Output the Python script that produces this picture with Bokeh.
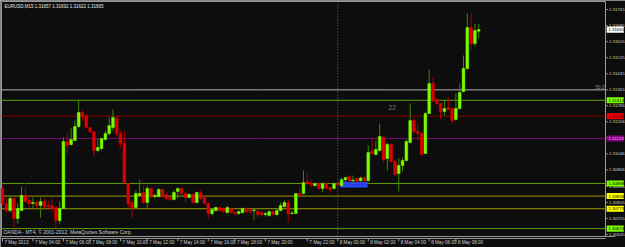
from bokeh.plotting import figure
from bokeh.models import Range1d, ColumnDataSource
from bokeh.embed import file_html
from bokeh.resources import INLINE
from bokeh.core.properties import value

# ---------------- data ----------------
symbol = "EURUSD,M15"
ohlc_last = [1.31657, 1.31692, 1.31622, 1.31665]

opens = [1.30874, 1.30799, 1.30764, 1.30824, 1.30724, 1.30764, 1.30839, 1.30814, 1.30799, 1.30804,
         1.30789, 1.30809, 1.30789, 1.30789, 1.30779, 1.30714, 1.30774, 1.31108, 1.31093, 1.31113,
         1.31182, 1.31252, 1.31237, 1.31177, 1.31157, 1.31063, 1.31073, 1.31118, 1.31148, 1.31177,
         1.31222, 1.31148, 1.31098, 1.30898, 1.30804, 1.30779, 1.30839, 1.30854, 1.30804, 1.30874,
         1.30834, 1.30834, 1.30869, 1.30844, 1.30829, 1.30819, 1.30859, 1.30874, 1.30849, 1.30829,
         1.30844, 1.30804, 1.30854, 1.30829, 1.30799, 1.30749, 1.30764, 1.30779, 1.30774, 1.30754,
         1.30774, 1.30754, 1.30749, 1.30754, 1.30774, 1.30764, 1.30764, 1.30759, 1.30754, 1.30744,
         1.30739, 1.30759, 1.30744, 1.30764, 1.30784, 1.30804, 1.30749, 1.30749, 1.30849, 1.30849,
         1.30908, 1.30901, 1.30888, 1.30898, 1.30874, 1.30898, 1.30879, 1.30874, 1.30898, 1.30888,
         1.30918, 1.30933, 1.30913, 1.30923, 1.30913, 1.30928, 1.30913, 1.31058, 1.31043, 1.31063,
         1.31128, 1.31023, 1.31093, 1.31008, 1.30948, 1.30988, 1.31013, 1.31103, 1.31212, 1.31157,
         1.31148, 1.31048, 1.31247, 1.31397, 1.31317, 1.31297, 1.31257, 1.31277, 1.31272, 1.31217,
         1.31272, 1.31357, 1.31471, 1.31675, 1.31596, 1.31657]

highs = [1.30883, 1.30829, 1.30839, 1.30834, 1.30799, 1.30883, 1.30879, 1.30839, 1.30829, 1.30814,
         1.30829, 1.30824, 1.30814, 1.30824, 1.30784, 1.30809, 1.31128, 1.31148, 1.31177, 1.31212,
         1.31312, 1.31262, 1.31237, 1.31177, 1.31162, 1.31123, 1.31123, 1.31162, 1.31227, 1.31267,
         1.31232, 1.31162, 1.31162, 1.30903, 1.30814, 1.30864, 1.30918, 1.30888, 1.30888, 1.30879,
         1.30849, 1.30874, 1.30874, 1.30849, 1.30834, 1.30864, 1.30879, 1.30879, 1.30854, 1.30849,
         1.30849, 1.30859, 1.30864, 1.30839, 1.30804, 1.30774, 1.30784, 1.30784, 1.30779, 1.30789,
         1.30779, 1.30764, 1.30764, 1.30779, 1.30779, 1.30774, 1.30774, 1.30769, 1.30759, 1.30759,
         1.30764, 1.30764, 1.30774, 1.30804, 1.30814, 1.30814, 1.30764, 1.30849, 1.30879, 1.30963,
         1.30948, 1.30918, 1.30903, 1.30903, 1.30903, 1.30903, 1.30883, 1.30903, 1.30908, 1.30928,
         1.30928, 1.30943, 1.30938, 1.30928, 1.30933, 1.30933, 1.31088, 1.31123, 1.31113, 1.31197,
         1.31138, 1.31103, 1.31098, 1.31018, 1.31023, 1.31028, 1.31118, 1.31297, 1.31227, 1.31197,
         1.31148, 1.31257, 1.31466, 1.31426, 1.31322, 1.31297, 1.31312, 1.31327, 1.31277, 1.31347,
         1.31397, 1.31536, 1.31745, 1.31745, 1.31695, 1.31692]

lows = [1.30789, 1.30754, 1.30754, 1.30679, 1.30699, 1.30764, 1.30804, 1.30779, 1.30774, 1.30774,
        1.30729, 1.30774, 1.30774, 1.30754, 1.30679, 1.30699, 1.30774, 1.31048, 1.31088, 1.31113,
        1.31177, 1.31212, 1.31172, 1.31152, 1.31033, 1.31053, 1.31063, 1.31113, 1.31138, 1.31162,
        1.31138, 1.31078, 1.30898, 1.30774, 1.30729, 1.30774, 1.30839, 1.30799, 1.30774, 1.30824,
        1.30824, 1.30829, 1.30829, 1.30814, 1.30814, 1.30814, 1.30824, 1.30844, 1.30804, 1.30824,
        1.30799, 1.30799, 1.30819, 1.30794, 1.30724, 1.30739, 1.30759, 1.30759, 1.30754, 1.30749,
        1.30749, 1.30739, 1.30744, 1.30749, 1.30754, 1.30749, 1.30719, 1.30729, 1.30734, 1.30734,
        1.30734, 1.30739, 1.30734, 1.30759, 1.30779, 1.30704, 1.30744, 1.30749, 1.30834, 1.30844,
        1.30893, 1.30879, 1.30883, 1.30869, 1.30854, 1.30869, 1.30849, 1.30869, 1.30883, 1.30883,
        1.30903, 1.30903, 1.30898, 1.30903, 1.30908, 1.30903, 1.30908, 1.31048, 1.31038, 1.31058,
        1.31003, 1.30963, 1.31003, 1.30938, 1.30859, 1.30958, 1.31008, 1.31098, 1.31148, 1.31113,
        1.31038, 1.31048, 1.31247, 1.31302, 1.31287, 1.31222, 1.31237, 1.31262, 1.31197, 1.31212,
        1.31267, 1.31352, 1.31466, 1.31566, 1.31581, 1.31622]

closes = [1.30799, 1.30764, 1.30824, 1.30724, 1.30774, 1.30839, 1.30809, 1.30799, 1.30804, 1.30789,
          1.30809, 1.30784, 1.30784, 1.30774, 1.30714, 1.30774, 1.31108, 1.31088, 1.31118, 1.31182,
          1.31252, 1.31232, 1.31177, 1.31157, 1.31063, 1.31078, 1.31123, 1.31148, 1.31187, 1.31227,
          1.31148, 1.31098, 1.30903, 1.30799, 1.30779, 1.30849, 1.30849, 1.30804, 1.30874, 1.30834,
          1.30839, 1.30869, 1.30834, 1.30824, 1.30819, 1.30854, 1.30874, 1.30849, 1.30829, 1.30844,
          1.30804, 1.30854, 1.30824, 1.30799, 1.30749, 1.30769, 1.30779, 1.30764, 1.30759, 1.30779,
          1.30754, 1.30749, 1.30759, 1.30774, 1.30759, 1.30759, 1.30767, 1.30744, 1.30744, 1.30749,
          1.30759, 1.30744, 1.30764, 1.30789, 1.30804, 1.30749, 1.30752, 1.30849, 1.30839, 1.30903,
          1.30898, 1.30893, 1.30898, 1.30874, 1.30898, 1.30874, 1.30869, 1.30898, 1.30891, 1.30918,
          1.30928, 1.30913, 1.30916, 1.30908, 1.30926, 1.30913, 1.31053, 1.31048, 1.31068, 1.31133,
          1.31018, 1.31093, 1.31008, 1.30943, 1.30988, 1.31013, 1.31108, 1.31212, 1.31157, 1.31148,
          1.31043, 1.31247, 1.31397, 1.31312, 1.31297, 1.31257, 1.31272, 1.31267, 1.31212, 1.31272,
          1.31352, 1.31471, 1.31675, 1.31596, 1.31660, 1.31665]

# time axis labels and the bar index where each one sits
time_labels = ["7 May 2013", "7 May 04:00", "7 May 06:00", "7 May 08:00", "7 May 10:00",
               "7 May 12:00", "7 May 14:00", "7 May 16:00", "7 May 18:00", "7 May 20:00",
               "7 May 22:00", "8 May 00:00", "8 May 02:00", "8 May 04:00", "8 May 06:00",
               "8 May 08:00"]
time_label_bars = [0, 8, 16, 23, 31, 38, 46, 54, 61, 69, 80, 88, 96, 104, 112, 119]
day_separator = "8 May 00:00"

# price scale ticks
price_ticks = [1.31765, 1.31685, 1.31605, 1.31525, 1.31445, 1.31365, 1.31286, 1.31206,
               1.31126, 1.31046, 1.30966, 1.30886, 1.30805, 1.30725, 1.30645]

# horizontal levels drawn on the chart, with their price-scale boxes
level_prices = [1.31313, 1.31234, 1.31123, 1.30899, 1.30836, 1.30773, 1.30674]
level_colors = ["#5f9f00", "#8e0000", "#7a0a7a", "#5f9f00", "#9b9b00", "#9b9b00", "#5f9f00"]
level_box_colors = ["#7cfc00", "#ee0000", "#8a008a", "#7cfc00", "#ffff00", "#ffff00", "#7cfc00"]
level_text_colors = ["#000000", "#3a0000", "#e0b0e0", "#000000", "#000000", "#000000", "#000000"]
fibo_level = 1.31365
fibo_text = "50.0"

# trend lines (bar index, price)
trend_bars = [6, 16]
trend_prices = [1.30898, 1.31113]
red_dots_bars = [29.9, 31.6]
red_dots_prices = [1.31138, 1.31003]

# blue zone rectangle
zone_bars = [88.7, 95.8]
zone_prices = [1.30879, 1.30908]

marker_text = "22"
marker_bar = 101.3
marker_price = 1.31277

copyright_text = "OANDA - MT4, \u00a9 2001-2012, MetaQuotes Software Corp."

# ---------------- layout (data units of the full-canvas frame) ----------------
X0, X1 = -0.525, 163.52          # whole canvas width
Y0, Y1 = 1.30580, 1.31810        # whole canvas height
chart_left = -0.27
scale_x = 158.27                  # price-scale line
chart_top = 1.31805
chart_bottom = 1.30635
chart_bottom2 = 1.30625
BOX_H = 0.00015
PX = 0.0000498                    # one pixel in price units

BG = "#0d0d0d"
GRAY = "#9a9a9a"
FONT = "Liberation Sans"
SCALE_FONT = "4.3px"
BULL, BEAR = "#7cfc00", "#dd0000"
BULL_WICK, BEAR_WICK = "#3a8c00", "#b00000"

n = len(closes)
idx = list(range(n))
bull = [c >= o for o, c in zip(opens, closes)]
src = ColumnDataSource(dict(
    x=idx, o=opens, h=highs, l=lows, c=closes,
    top=[max(o, c) for o, c in zip(opens, closes)],
    bot=[min(o, c) for o, c in zip(opens, closes)],
    body=[BULL if b else BEAR for b in bull],
    wick=[BULL_WICK if b else BEAR_WICK for b in bull],
))

p = figure(width=625, height=247, output_backend="svg", toolbar_location=None,
           x_range=Range1d(X0, X1), y_range=Range1d(Y0, Y1),
           x_axis_location=None, y_axis_location=None, min_border=0,
           background_fill_color=BG, border_fill_color=BG, outline_line_color=None)
p.grid.visible = False

# frame lines: top, left, price-scale line, double bottom line
p.segment(x0=[chart_left, chart_left, scale_x, chart_left, chart_left],
          x1=[scale_x, chart_left, scale_x, scale_x + 2.6, scale_x],
          y0=[chart_top, chart_top, chart_top, chart_bottom, chart_bottom2],
          y1=[chart_top, chart_bottom, chart_bottom, chart_bottom, chart_bottom2],
          line_color=GRAY, line_width=1)

# fib 50 level
p.segment(x0=[chart_left], x1=[scale_x], y0=[fibo_level], y1=[fibo_level], line_color="#b4b4b4", line_width=1)
p.text(x=[scale_x], y=[fibo_level], text=[fibo_text], text_align="right", text_baseline="bottom",
       x_offset=-1, y_offset=-1, text_font=value(FONT), text_font_size="4.6px", text_color="#9090b0")

# horizontal levels
p.segment(x0=[chart_left] * len(level_prices), x1=[scale_x] * len(level_prices),
          y0=level_prices, y1=level_prices, line_color=level_colors, line_width=1)

# day separator
sep_x = time_label_bars[time_labels.index(day_separator)]
p.segment(x0=[sep_x], x1=[sep_x], y0=[chart_bottom], y1=[chart_top], line_color="#707070",
          line_width=1, line_dash="1 2")

# trend lines
p.line(trend_bars, trend_prices, line_color="#1a1a90", line_width=1, line_dash="1 2")
p.line(red_dots_bars, red_dots_prices, line_color="#aa0000", line_width=1, line_dash="1 2")

# blue zone
p.quad(left=[zone_bars[0]], right=[zone_bars[1]], bottom=[zone_prices[0]], top=[zone_prices[1]],
       fill_color="#2a4cff", line_color=None, hatch_pattern="dot", hatch_color="#1020a0",
       hatch_scale=3)

# candles
p.segment(x0="x", x1="x", y0="l", y1="h", line_color="wick", line_width=1, source=src)
p.vbar(x="x", width=0.72, top="top", bottom="bot", fill_color="body", line_color="body",
       line_width=0.5, source=src)

# marker text
p.text(x=[marker_bar], y=[marker_price], text=[marker_text], text_align="left",
       text_baseline="middle", text_font=value(FONT), text_font_size="7px", text_color="#7a7a7a")

# header text
title = symbol + "  " + " ".join(f"{v:.5f}" for v in ohlc_last)
p.text(x=[chart_left], y=[chart_top], text=[title], text_align="left", text_baseline="top",
       x_offset=3, y_offset=2, text_font=value(FONT), text_font_size="4.5px", text_color="#e8e8e8")

# copyright text
p.text(x=[chart_left], y=[chart_bottom], text=[copyright_text], text_align="left",
       text_baseline="bottom", x_offset=2, y_offset=-1, text_font=value(FONT),
       text_font_size="5px", text_color="#d0d0d0")

# price scale: ticks and labels
nt = len(price_ticks)
p.segment(x0=[scale_x] * nt, x1=[scale_x + 0.6] * nt, y0=price_ticks, y1=price_ticks,
          line_color=GRAY, line_width=1)
p.text(x=[scale_x] * nt, y=price_ticks, text=[f"{t:.5f}" for t in price_ticks],
       text_align="left", text_baseline="middle", x_offset=3.5, text_font=value(FONT),
       text_font_size=SCALE_FONT, text_color="#cfcfcf")

# price boxes on the scale (levels and current price)
box_prices = level_prices + [closes[-1]]
box_fill = level_box_colors + ["#ffffff"]
box_text_col = level_text_colors + ["#000000"]
nb = len(box_prices)
p.quad(left=[scale_x + 0.3] * nb, right=[scale_x + 4.8] * nb,
       bottom=[b - BOX_H for b in box_prices], top=[b + BOX_H for b in box_prices],
       fill_color=box_fill, line_color=None)
p.text(x=[scale_x] * nb, y=box_prices, text=[f"{b:.5f}" for b in box_prices],
       text_align="left", text_baseline="middle", x_offset=3, text_font=value(FONT),
       text_font_size=SCALE_FONT, text_color=box_text_col)

# time scale: ticks and labels
p.segment(x0=time_label_bars, x1=time_label_bars, y0=[chart_bottom2] * len(time_label_bars),
          y1=[chart_bottom2 - 3 * PX] * len(time_label_bars), line_color=GRAY, line_width=1)
p.text(x=time_label_bars, y=[chart_bottom2] * len(time_label_bars), text=time_labels,
       text_align="left", text_baseline="top", x_offset=2, y_offset=2, text_font=value(FONT),
       text_font_size="4.6px", text_color="#cfcfcf")

open("out.html", "w").write(file_html(p, INLINE))
